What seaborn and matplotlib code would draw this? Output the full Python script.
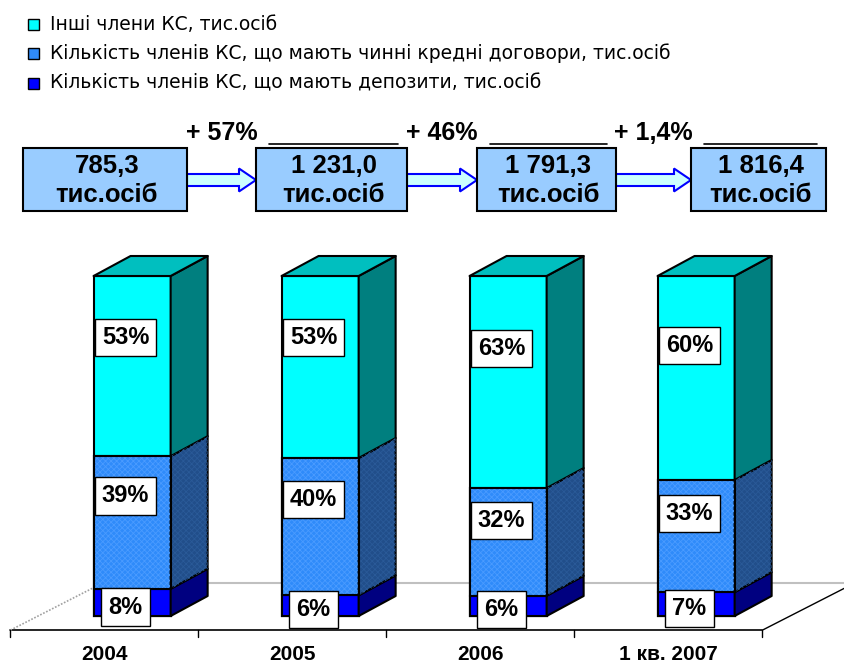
import numpy as np
import pandas as pd
import matplotlib
matplotlib.use("Agg")
import matplotlib.pyplot as plt
import matplotlib.patches as mpatches
import seaborn as sns

# ── Data ──────────────────────────────────────────────────────────────────────
years    = ["2004", "2005", "2006", "1 кв. 2007"]
deposits = [8, 6, 6, 7]        # Кількість членів КС, що мають депозити, %
credits  = [39, 40, 32, 33]    # ... що мають чинні кредні договори, %
others   = [53, 53, 63, 60]    # Інші члени КС, %
totals   = ["785,3", "1 231,0", "1 791,3", "1 816,4"]
growth   = ["+ 57%", "+ 46%", "+ 1,4%"]

legend_labels = [
    "Інші члени КС, тис.осіб",
    "Кількість членів КС, що мають чинні кредні договори, тис.осіб",
    "Кількість членів КС, що мають депозити, тис.осіб",
]

# ── Style ─────────────────────────────────────────────────────────────────────
sns.set_style("white")
plt.rcParams["font.family"] = ["Liberation Sans", "DejaVu Sans"]
plt.rcParams["text.color"] = "black"
plt.rcParams["hatch.linewidth"] = 0.6

front = {"oth": "#00FFFF", "cred": "#2F8BFA", "dep": "#0000FF"}
side  = {"oth": "#007F7F", "cred": "#214E8A", "dep": "#000080"}
top_c = {"oth": "#00BFBF", "cred": "#2A6FC8", "dep": "#0000C0"}

# normalise to 100 % stacks
raw = np.array([deposits, credits, others], dtype=float)
share = raw / raw.sum(axis=0) * 100
df = pd.DataFrame({
    "year": years,
    "top1": share[0],
    "top2": share[0] + share[1],
    "top3": share[0] + share[1] + share[2],
})

W, H = 845, 666
fig = plt.figure(figsize=(W / 100, H / 100), dpi=100)

# main chart axes: x in categories, y in percent
ax = fig.add_axes([0, 0, 1, 1])
bw = 0.41
for col, key in [("top3", "oth"), ("top2", "cred"), ("top1", "dep")]:
    sns.barplot(data=df, x="year", y=col, color=front[key], saturation=1,
                width=bw, edgecolor="black", linewidth=1.5, ax=ax, zorder=2)

px_x, px_y = 188.0, 3.4               # pixels per unit
ax.set_xlim(-132.1 / px_x, (W - 132.1) / px_x)
ax.set_ylim(-(H - 616) / px_y, 616 / px_y)
ax.set_axis_off()

ddx, ddy = 37 / px_x, 20 / px_y       # bar depth
fdx, fdy = 92 / px_x, 47 / px_y       # floor depth
z0x, z0y = 0.3 * fdx, 0.3 * fdy       # bar front offset into floor

# floor
fl = -0.5 - z0x
fr = len(years) - 0.5 - z0x
fy = -z0y
ax.plot([fl, fr], [fy, fy], color="black", lw=1.2, zorder=0.5)
ax.plot([fl, fl + fdx], [fy, fy + fdy], color="#A0A0A0", lw=1.2, ls=(0, (1, 1)), zorder=0.5)
ax.plot([fl + fdx, fr + fdx], [fy + fdy, fy + fdy], color="#C0C0C0", lw=1.5, zorder=0.5)
ax.plot([fr, fr + fdx], [fy, fy + fdy], color="black", lw=1.0, zorder=0.5)
for k in range(len(years) + 1):
    ax.plot([fl + k, fl + k], [fy, fy - 7 / px_y], color="black", lw=1.0, zorder=0.5)
for i, yr in enumerate(years):
    ax.text(i - z0x, -(655 - 616) / px_y, yr, ha="center", va="center",
            fontsize=15, fontweight="bold")

# 3D faces
keys = ["dep", "cred", "oth"]
bottoms = np.vstack([np.zeros(len(years)), df["top1"], df["top2"]])
tops = np.vstack([df["top1"], df["top2"], df["top3"]])
n = len(years)
for i in range(n):
    p = ax.patches[i]
    xl, w = p.get_x(), p.get_width()
    xr = xl + w
    for s, key in enumerate(keys):
        y0, y1 = bottoms[s, i], tops[s, i]
        poly = mpatches.Polygon([(xr, y0), (xr + ddx, y0 + ddy), (xr + ddx, y1 + ddy), (xr, y1)],
                                closed=True, facecolor=side[key], edgecolor="black",
                                lw=1.5, zorder=2, joinstyle="round")
        ax.add_patch(poly)
        if key == "cred":
            ax.add_patch(mpatches.Polygon(poly.get_xy(), closed=True, facecolor="none",
                                          edgecolor="#2A5A98", lw=0, hatch="xxxxxx", zorder=2.1))
            ax.add_patch(mpatches.Rectangle((xl, y0), w, y1 - y0, facecolor="none",
                                            edgecolor="#4A9BFF", lw=0, hatch="xxxxxx", zorder=2.1))
            ax.add_patch(mpatches.Rectangle((xl, y0), w, y1 - y0, facecolor="none",
                                            edgecolor="black", lw=1.5, zorder=2.2))
    yt = tops[-1, i]
    ax.add_patch(mpatches.Polygon([(xl, yt), (xr, yt), (xr + ddx, yt + ddy), (xl + ddx, yt + ddy)],
                                  closed=True, facecolor=top_c["oth"], edgecolor="black",
                                  lw=1.5, zorder=2, joinstyle="round"))

    # percent labels
    lab_y = [0.33 * share[0, i],
             bottoms[1, i] + 0.7 * share[1, i],
             bottoms[2, i] + 0.66 * share[2, i]]
    for s in range(3):
        ax.text(i - 0.035, lab_y[s], f"{raw[s, i]:.0f}%", ha="center", va="center",
                fontsize=17, fontweight="bold", zorder=10,
                bbox=dict(boxstyle="square,pad=0.3", facecolor="white",
                          edgecolor="black", lw=1.0))

# ── Decorations: legend, totals, arrows (pixel axes) ─────────────────────────
dx_ax = fig.add_axes([0, 0, 1, 1])
dx_ax.set_xlim(0, W)
dx_ax.set_ylim(H, 0)
dx_ax.set_axis_off()
dx_ax.patch.set_alpha(0)

leg_keys = ["oth", "cred", "dep"]
for r, (lab, key) in enumerate(zip(legend_labels, leg_keys)):
    yc = 24 + r * 29.5
    dx_ax.add_patch(mpatches.Rectangle((28, yc - 5.5), 11, 11, facecolor=front[key],
                                       edgecolor="black", lw=1.0))
    dx_ax.text(50, yc, lab, ha="left", va="center", fontsize=13.5,
               family=["DejaVu Sans"])

box_l = [23, 256, 477, 691]
box_r = [187, 407, 616, 826]
by0, by1 = 148, 211
for i in range(n):
    dx_ax.add_patch(mpatches.Rectangle((box_l[i], by0), box_r[i] - box_l[i], by1 - by0,
                                       facecolor="#99CCFF", edgecolor="black", lw=1.5, zorder=3))
    xc = (box_l[i] + box_r[i]) / 2 + 2
    dx_ax.text(xc, 166, totals[i], ha="center", va="center", fontsize=18.5,
               fontweight="bold", zorder=4)
    dx_ax.text(xc, 195, "тис.осіб", ha="center", va="center", fontsize=18.5,
               fontweight="bold", zorder=4)
    if i > 0:
        dx_ax.plot([box_l[i] + 13, box_r[i] - 9], [144, 144], color="black", lw=1.2, zorder=2)

for i, g in enumerate(growth):
    x0, x1 = box_r[i], box_l[i + 1]
    dx_ax.add_patch(mpatches.FancyArrow(x0, 180, x1 - x0, 0, width=12, head_width=23,
                                        head_length=17, length_includes_head=True,
                                        facecolor="#CCFFFF", edgecolor="#0000FF", lw=1.5,
                                        zorder=2))
    dx_ax.text((x0 + x1) / 2, 133, g, ha="center", va="center", fontsize=18,
               fontweight="bold", zorder=5)

fig.savefig("out.png", dpi=100)
